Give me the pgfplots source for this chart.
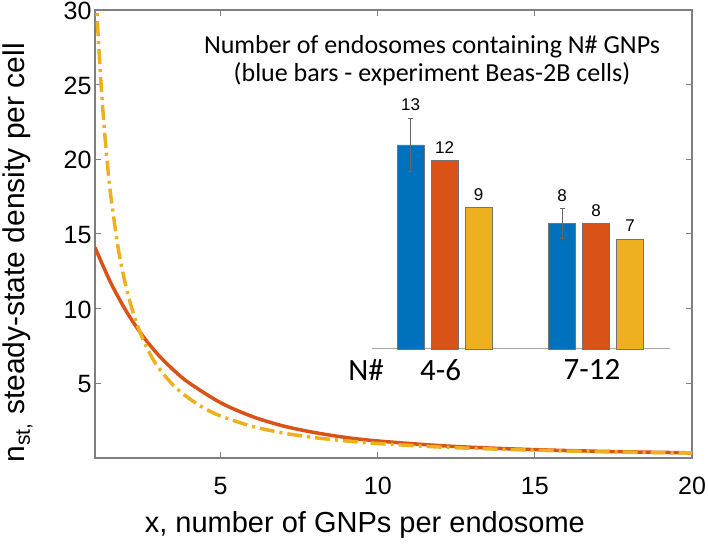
\documentclass[border=0pt]{standalone}
\usepackage{fontspec}
\setmainfont{Liberation Sans}
\newfontfamily\calibri{Carlito}
\usepackage{pgfplots}
\pgfplotsset{compat=1.18}
\definecolor{mblue}{HTML}{0072BD}
\definecolor{morange}{HTML}{D95319}
\definecolor{myellow}{HTML}{EDB120}
\definecolor{axgray}{HTML}{7F7F7F}

\begin{document}
\begin{tikzpicture}
\begin{axis}[
  at={(0pt,0pt)}, anchor=south west,
  scale only axis, width=597pt, height=448pt,
  xmin=1, xmax=20, ymin=0, ymax=30,
  xtick={5,10,15,20}, ytick={5,10,15,20,25,30},
  tick align=inside, major tick length=6pt,
  axis line style={axgray, line width=1.2pt},
  tick style={axgray, line width=1pt},
  ticklabel style={font=\fontsize{25pt}{29pt}\selectfont},
  yticklabel style={yshift=-1pt},
  /pgf/number format/assume math mode=true,
  xticklabel style={yshift=-16pt},
  xlabel={x, number of GNPs per endosome},
  ylabel={n\textsubscript{st,} steady-state density per cell},
  xlabel style={at={(axis description cs:0.452,-0.1674)}, anchor=base, font=\fontsize{29pt}{34pt}\selectfont},
  ylabel style={at={(axis description cs:-0.1173,0.458)}, anchor=base, font=\fontsize{30pt}{35pt}\selectfont},
]
\addplot[morange, line width=3.5pt, smooth] coordinates {
(1.0,14.1) (1.5,11.74) (2.0,9.81) (2.5,8.23) (3.0,6.94) (3.5,5.89) (4.0,5.02)
(5.0,3.70) (6.0,2.78) (7.0,2.14) (8.0,1.70) (9.0,1.37) (10.0,1.14) (12.0,0.825)
(14.0,0.63) (16.0,0.50) (18.0,0.41) (20.0,0.346)};
\addplot[myellow, line width=3.5pt, smooth, dash pattern=on 15pt off 5pt on 3pt off 5pt] coordinates {
(1.0,33) (1.05,30.4) (1.1,28.3) (1.2,24.8) (1.3,21.95) (1.4,19.6) (1.5,17.6)
(1.75,13.9) (2.0,11.36) (2.25,9.49) (2.5,8.07) (2.75,6.98) (3.0,6.11) (3.5,4.85)
(4.0,3.98) (4.5,3.31) (5.0,2.81) (6.0,2.12) (7.0,1.67) (8.0,1.36) (9.0,1.14)
(10.0,0.97) (12.0,0.73) (14.0,0.58) (16.0,0.47) (18.0,0.39) (20.0,0.335)};
\end{axis}

\begin{axis}[
  at={(277pt,109pt)}, anchor=south west,
  scale only axis, width=298pt, height=235.5pt,
  xmin=0.5215, xmax=2.488, ymin=0, ymax=15,
  axis y line=none, axis x line*=bottom,
  x axis line style={-, black!35, line width=1pt},
  xtick={1,2}, xticklabels={4-6,7-12}, ytick=\empty,
  major tick length=0pt,
  xticklabel style={font=\calibri\fontsize{31pt}{36pt}\selectfont, xshift=-4pt, yshift=-7pt},
  clip=false,
]
\addplot[ybar, bar width=27pt, bar shift=0pt, fill=mblue, draw=black!55, line width=0.5pt,
  error bars/.cd, y dir=both, y explicit, error mark=|,
  error bar style={black!60, line width=0.6pt},
  error mark options={black!60, line width=0.6pt, mark size=2.5pt}]
  coordinates {(0.7756,13) +- (0,1.7) (1.7756,8) +- (0,0.93)};
\addplot[ybar, bar width=27pt, bar shift=0pt, fill=morange, draw=black!55, line width=0.5pt]
  coordinates {(1,12) (2,8)};
\addplot[ybar, bar width=27pt, bar shift=0pt, fill=myellow, draw=black!55, line width=0.5pt]
  coordinates {(1.2244,9) (2.2244,7)};
\addplot[draw=none, mark=none, nodes near coords, point meta=explicit symbolic,
  nodes near coords style={anchor=south, inner sep=0pt, yshift=7pt, text=black, font=\fontsize{17pt}{20pt}\selectfont}]
  coordinates {(0.7756,14.7) [13] (1,12) [12] (1.2244,9) [9] (1.7756,8.93) [8] (2,8) [8] (2.2244,7) [7]};
\node[font=\calibri\fontsize{31pt}{36pt}\selectfont, anchor=north, yshift=-7pt] at (axis cs:0.482,0) {N\#};
\end{axis}

\node[align=center, font=\calibri\fontsize{26pt}{28pt}\selectfont] at (337pt,397pt)
  {Number of endosomes containing N\# GNPs\\(blue bars - experiment Beas-2B cells)};

\pgfresetboundingbox
\path (-95pt,-90pt) rectangle (613pt,458pt);
\end{tikzpicture}
\end{document}
